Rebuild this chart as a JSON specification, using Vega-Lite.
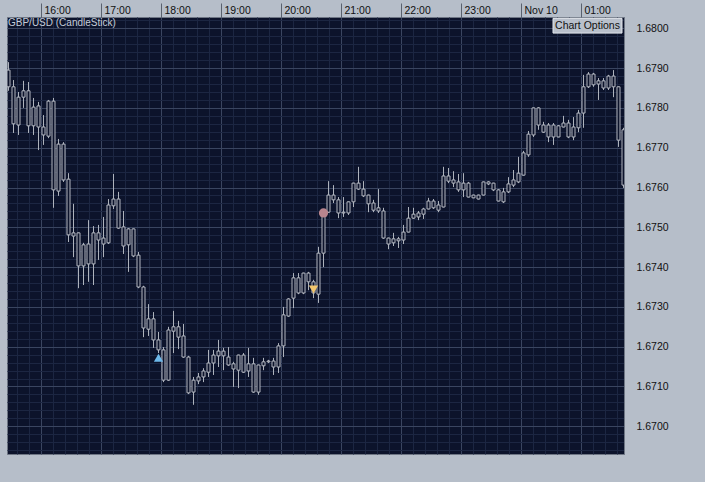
{
"$schema":"https://vega.github.io/schema/vega-lite/v6.json",
"width":617,"height":437,
"autosize":{"type":"none"},
"padding":{"left":7,"top":17,"right":81,"bottom":28},
"background":"#b6bec9",
"config":{"view":{"fill":"#0c132b","stroke":"#6e7684"},"font":"Liberation Sans","scale":{"continuousPadding":0}},
"datasets":{
"candles":[
{"t":"2009-11-09T15:25:00Z","o":1.67895,"h":1.67915,"l":1.67843,"c":1.67853},
{"t":"2009-11-09T15:30:00Z","o":1.67853,"h":1.67870,"l":1.67737,"c":1.67760},
{"t":"2009-11-09T15:35:00Z","o":1.67757,"h":1.67840,"l":1.67732,"c":1.67827},
{"t":"2009-11-09T15:40:00Z","o":1.67843,"h":1.67868,"l":1.67800,"c":1.67827},
{"t":"2009-11-09T15:45:00Z","o":1.67843,"h":1.67865,"l":1.67737,"c":1.67755},
{"t":"2009-11-09T15:50:00Z","o":1.67802,"h":1.67825,"l":1.67732,"c":1.67755},
{"t":"2009-11-09T15:55:00Z","o":1.67805,"h":1.67815,"l":1.67694,"c":1.67752},
{"t":"2009-11-09T16:00:00Z","o":1.67732,"h":1.67782,"l":1.67707,"c":1.67752},
{"t":"2009-11-09T16:05:00Z","o":1.67817,"h":1.67820,"l":1.67724,"c":1.67729},
{"t":"2009-11-09T16:10:00Z","o":1.67817,"h":1.67825,"l":1.67549,"c":1.67594},
{"t":"2009-11-09T16:15:00Z","o":1.67591,"h":1.67722,"l":1.67579,"c":1.67709},
{"t":"2009-11-09T16:20:00Z","o":1.67709,"h":1.67714,"l":1.67614,"c":1.67619},
{"t":"2009-11-09T16:25:00Z","o":1.67621,"h":1.67636,"l":1.67463,"c":1.67481},
{"t":"2009-11-09T16:30:00Z","o":1.67486,"h":1.67559,"l":1.67425,"c":1.67478},
{"t":"2009-11-09T16:35:00Z","o":1.67486,"h":1.67487,"l":1.67347,"c":1.67403},
{"t":"2009-11-09T16:40:00Z","o":1.67403,"h":1.67461,"l":1.67355,"c":1.67456},
{"t":"2009-11-09T16:45:00Z","o":1.67408,"h":1.67518,"l":1.67363,"c":1.67458},
{"t":"2009-11-09T16:50:00Z","o":1.67408,"h":1.67503,"l":1.67355,"c":1.67486},
{"t":"2009-11-09T16:55:00Z","o":1.67486,"h":1.67506,"l":1.67418,"c":1.67468},
{"t":"2009-11-09T17:00:00Z","o":1.67458,"h":1.67526,"l":1.67425,"c":1.67473},
{"t":"2009-11-09T17:05:00Z","o":1.67461,"h":1.67571,"l":1.67458,"c":1.67556},
{"t":"2009-11-09T17:10:00Z","o":1.67554,"h":1.67634,"l":1.67546,"c":1.67571},
{"t":"2009-11-09T17:15:00Z","o":1.67571,"h":1.67589,"l":1.67496,"c":1.67498},
{"t":"2009-11-09T17:20:00Z","o":1.67501,"h":1.67541,"l":1.67433,"c":1.67453},
{"t":"2009-11-09T17:25:00Z","o":1.67496,"h":1.67498,"l":1.67388,"c":1.67456},
{"t":"2009-11-09T17:30:00Z","o":1.67496,"h":1.67497,"l":1.67425,"c":1.67428},
{"t":"2009-11-09T17:35:00Z","o":1.67430,"h":1.67438,"l":1.67347,"c":1.67350},
{"t":"2009-11-09T17:40:00Z","o":1.67350,"h":1.67353,"l":1.67224,"c":1.67247},
{"t":"2009-11-09T17:45:00Z","o":1.67270,"h":1.67307,"l":1.67227,"c":1.67244},
{"t":"2009-11-09T17:50:00Z","o":1.67270,"h":1.67287,"l":1.67197,"c":1.67217},
{"t":"2009-11-09T17:55:00Z","o":1.67217,"h":1.67237,"l":1.67184,"c":1.67192},
{"t":"2009-11-09T18:00:00Z","o":1.67116,"h":1.67199,"l":1.67111,"c":1.67192},
{"t":"2009-11-09T18:05:00Z","o":1.67116,"h":1.67250,"l":1.67114,"c":1.67242},
{"t":"2009-11-09T18:10:00Z","o":1.67250,"h":1.67290,"l":1.67184,"c":1.67239},
{"t":"2009-11-09T18:15:00Z","o":1.67250,"h":1.67265,"l":1.67194,"c":1.67224},
{"t":"2009-11-09T18:20:00Z","o":1.67227,"h":1.67257,"l":1.67172,"c":1.67174},
{"t":"2009-11-09T18:25:00Z","o":1.67174,"h":1.67177,"l":1.67081,"c":1.67084},
{"t":"2009-11-09T18:30:00Z","o":1.67086,"h":1.67124,"l":1.67054,"c":1.67116},
{"t":"2009-11-09T18:35:00Z","o":1.67114,"h":1.67134,"l":1.67106,"c":1.67124},
{"t":"2009-11-09T18:40:00Z","o":1.67124,"h":1.67146,"l":1.67111,"c":1.67139},
{"t":"2009-11-09T18:45:00Z","o":1.67136,"h":1.67192,"l":1.67124,"c":1.67159},
{"t":"2009-11-09T18:50:00Z","o":1.67159,"h":1.67192,"l":1.67129,"c":1.67179},
{"t":"2009-11-09T18:55:00Z","o":1.67177,"h":1.67217,"l":1.67149,"c":1.67189},
{"t":"2009-11-09T19:00:00Z","o":1.67189,"h":1.67197,"l":1.67141,"c":1.67177},
{"t":"2009-11-09T19:05:00Z","o":1.67174,"h":1.67199,"l":1.67152,"c":1.67154},
{"t":"2009-11-09T19:10:00Z","o":1.67144,"h":1.67162,"l":1.67099,"c":1.67157},
{"t":"2009-11-09T19:15:00Z","o":1.67179,"h":1.67180,"l":1.67096,"c":1.67141},
{"t":"2009-11-09T19:20:00Z","o":1.67179,"h":1.67184,"l":1.67134,"c":1.67136},
{"t":"2009-11-09T19:25:00Z","o":1.67157,"h":1.67197,"l":1.67124,"c":1.67139},
{"t":"2009-11-09T19:30:00Z","o":1.67157,"h":1.67172,"l":1.67084,"c":1.67086},
{"t":"2009-11-09T19:35:00Z","o":1.67086,"h":1.67155,"l":1.67079,"c":1.67154},
{"t":"2009-11-09T19:40:00Z","o":1.67152,"h":1.67172,"l":1.67141,"c":1.67162},
{"t":"2009-11-09T19:45:00Z","o":1.67164,"h":1.67167,"l":1.67159,"c":1.67162},
{"t":"2009-11-09T19:50:00Z","o":1.67149,"h":1.67172,"l":1.67129,"c":1.67164},
{"t":"2009-11-09T19:55:00Z","o":1.67149,"h":1.67209,"l":1.67134,"c":1.67202},
{"t":"2009-11-09T20:00:00Z","o":1.67202,"h":1.67300,"l":1.67174,"c":1.67280},
{"t":"2009-11-09T20:05:00Z","o":1.67277,"h":1.67322,"l":1.67275,"c":1.67320},
{"t":"2009-11-09T20:10:00Z","o":1.67322,"h":1.67385,"l":1.67297,"c":1.67373},
{"t":"2009-11-09T20:15:00Z","o":1.67335,"h":1.67385,"l":1.67332,"c":1.67373},
{"t":"2009-11-09T20:20:00Z","o":1.67335,"h":1.67386,"l":1.67332,"c":1.67385},
{"t":"2009-11-09T20:25:00Z","o":1.67385,"h":1.67388,"l":1.67342,"c":1.67363},
{"t":"2009-11-09T20:30:00Z","o":1.67335,"h":1.67368,"l":1.67322,"c":1.67363},
{"t":"2009-11-09T20:35:00Z","o":1.67332,"h":1.67451,"l":1.67310,"c":1.67435},
{"t":"2009-11-09T20:40:00Z","o":1.67435,"h":1.67541,"l":1.67400,"c":1.67538},
{"t":"2009-11-09T20:45:00Z","o":1.67538,"h":1.67616,"l":1.67536,"c":1.67581},
{"t":"2009-11-09T20:50:00Z","o":1.67581,"h":1.67606,"l":1.67561,"c":1.67569},
{"t":"2009-11-09T20:55:00Z","o":1.67569,"h":1.67576,"l":1.67523,"c":1.67536},
{"t":"2009-11-09T21:00:00Z","o":1.67536,"h":1.67576,"l":1.67526,"c":1.67538},
{"t":"2009-11-09T21:05:00Z","o":1.67536,"h":1.67565,"l":1.67531,"c":1.67564},
{"t":"2009-11-09T21:10:00Z","o":1.67564,"h":1.67612,"l":1.67551,"c":1.67611},
{"t":"2009-11-09T21:15:00Z","o":1.67611,"h":1.67652,"l":1.67594,"c":1.67596},
{"t":"2009-11-09T21:20:00Z","o":1.67596,"h":1.67616,"l":1.67576,"c":1.67579},
{"t":"2009-11-09T21:25:00Z","o":1.67581,"h":1.67582,"l":1.67538,"c":1.67559},
{"t":"2009-11-09T21:30:00Z","o":1.67561,"h":1.67569,"l":1.67538,"c":1.67543},
{"t":"2009-11-09T21:35:00Z","o":1.67549,"h":1.67596,"l":1.67536,"c":1.67541},
{"t":"2009-11-09T21:40:00Z","o":1.67541,"h":1.67549,"l":1.67471,"c":1.67473},
{"t":"2009-11-09T21:45:00Z","o":1.67473,"h":1.67474,"l":1.67445,"c":1.67458},
{"t":"2009-11-09T21:50:00Z","o":1.67461,"h":1.67486,"l":1.67453,"c":1.67471},
{"t":"2009-11-09T21:55:00Z","o":1.67466,"h":1.67476,"l":1.67448,"c":1.67471},
{"t":"2009-11-09T22:00:00Z","o":1.67468,"h":1.67506,"l":1.67458,"c":1.67488},
{"t":"2009-11-09T22:05:00Z","o":1.67488,"h":1.67551,"l":1.67487,"c":1.67523},
{"t":"2009-11-09T22:10:00Z","o":1.67523,"h":1.67549,"l":1.67521,"c":1.67533},
{"t":"2009-11-09T22:15:00Z","o":1.67526,"h":1.67541,"l":1.67518,"c":1.67536},
{"t":"2009-11-09T22:20:00Z","o":1.67533,"h":1.67549,"l":1.67521,"c":1.67546},
{"t":"2009-11-09T22:25:00Z","o":1.67546,"h":1.67574,"l":1.67545,"c":1.67566},
{"t":"2009-11-09T22:30:00Z","o":1.67566,"h":1.67571,"l":1.67546,"c":1.67549},
{"t":"2009-11-09T22:35:00Z","o":1.67543,"h":1.67566,"l":1.67538,"c":1.67556},
{"t":"2009-11-09T22:40:00Z","o":1.67551,"h":1.67652,"l":1.67550,"c":1.67629},
{"t":"2009-11-09T22:45:00Z","o":1.67629,"h":1.67649,"l":1.67611,"c":1.67616},
{"t":"2009-11-09T22:50:00Z","o":1.67619,"h":1.67641,"l":1.67601,"c":1.67611},
{"t":"2009-11-09T22:55:00Z","o":1.67614,"h":1.67634,"l":1.67589,"c":1.67594},
{"t":"2009-11-09T23:00:00Z","o":1.67611,"h":1.67636,"l":1.67576,"c":1.67594},
{"t":"2009-11-09T23:05:00Z","o":1.67611,"h":1.67614,"l":1.67575,"c":1.67576},
{"t":"2009-11-09T23:10:00Z","o":1.67581,"h":1.67582,"l":1.67573,"c":1.67574},
{"t":"2009-11-09T23:15:00Z","o":1.67571,"h":1.67582,"l":1.67570,"c":1.67581},
{"t":"2009-11-09T23:20:00Z","o":1.67581,"h":1.67615,"l":1.67580,"c":1.67614},
{"t":"2009-11-09T23:25:00Z","o":1.67614,"h":1.67616,"l":1.67606,"c":1.67609},
{"t":"2009-11-09T23:30:00Z","o":1.67611,"h":1.67612,"l":1.67591,"c":1.67594},
{"t":"2009-11-09T23:35:00Z","o":1.67594,"h":1.67596,"l":1.67565,"c":1.67566},
{"t":"2009-11-09T23:40:00Z","o":1.67564,"h":1.67599,"l":1.67561,"c":1.67589},
{"t":"2009-11-09T23:45:00Z","o":1.67589,"h":1.67626,"l":1.67586,"c":1.67609},
{"t":"2009-11-09T23:50:00Z","o":1.67606,"h":1.67644,"l":1.67601,"c":1.67619},
{"t":"2009-11-09T23:55:00Z","o":1.67614,"h":1.67677,"l":1.67611,"c":1.67636},
{"t":"2009-11-10T00:00:00Z","o":1.67631,"h":1.67692,"l":1.67630,"c":1.67687},
{"t":"2009-11-10T00:05:00Z","o":1.67682,"h":1.67742,"l":1.67677,"c":1.67734},
{"t":"2009-11-10T00:10:00Z","o":1.67732,"h":1.67801,"l":1.67727,"c":1.67800},
{"t":"2009-11-10T00:15:00Z","o":1.67800,"h":1.67802,"l":1.67745,"c":1.67757},
{"t":"2009-11-10T00:20:00Z","o":1.67757,"h":1.67765,"l":1.67737,"c":1.67739},
{"t":"2009-11-10T00:25:00Z","o":1.67757,"h":1.67762,"l":1.67714,"c":1.67727},
{"t":"2009-11-10T00:30:00Z","o":1.67757,"h":1.67762,"l":1.67707,"c":1.67727},
{"t":"2009-11-10T00:35:00Z","o":1.67727,"h":1.67757,"l":1.67726,"c":1.67755},
{"t":"2009-11-10T00:40:00Z","o":1.67762,"h":1.67780,"l":1.67751,"c":1.67752},
{"t":"2009-11-10T00:45:00Z","o":1.67762,"h":1.67770,"l":1.67724,"c":1.67727},
{"t":"2009-11-10T00:50:00Z","o":1.67727,"h":1.67777,"l":1.67719,"c":1.67752},
{"t":"2009-11-10T00:55:00Z","o":1.67750,"h":1.67795,"l":1.67739,"c":1.67787},
{"t":"2009-11-10T01:00:00Z","o":1.67787,"h":1.67883,"l":1.67750,"c":1.67853},
{"t":"2009-11-10T01:05:00Z","o":1.67853,"h":1.67890,"l":1.67850,"c":1.67885},
{"t":"2009-11-10T01:10:00Z","o":1.67885,"h":1.67888,"l":1.67853,"c":1.67858},
{"t":"2009-11-10T01:15:00Z","o":1.67868,"h":1.67875,"l":1.67820,"c":1.67860},
{"t":"2009-11-10T01:20:00Z","o":1.67850,"h":1.67875,"l":1.67845,"c":1.67868},
{"t":"2009-11-10T01:25:00Z","o":1.67850,"h":1.67883,"l":1.67845,"c":1.67880},
{"t":"2009-11-10T01:30:00Z","o":1.67880,"h":1.67895,"l":1.67827,"c":1.67853},
{"t":"2009-11-10T01:35:00Z","o":1.67853,"h":1.67854,"l":1.67702,"c":1.67719},
{"t":"2009-11-10T01:40:00Z","o":1.67745,"h":1.67750,"l":1.67599,"c":1.67606}
],
"signals":[
{"t":"2009-11-09T17:55:00Z","p":1.67172,"signal":"buy"},
{"t":"2009-11-09T20:30:00Z","p":1.67344,"signal":"sell"},
{"t":"2009-11-09T20:40:00Z","p":1.67536,"signal":"exit"}
]
},
"resolve":{"axis":{"x":"independent","y":"independent"}},
"layer":[
{"data":{"name":"candles"},
 "mark":{"type":"rule","color":"#aeb3bc","strokeWidth":1,"clip":true,"xOffset":2.5},
 "encoding":{
  "x":{"field":"t","type":"temporal",
   "scale":{"type":"utc","domain":[1257780360000,1257817380000],"nice":false,"padding":0},
   "axis":{"orient":"bottom","title":null,"labels":false,"ticks":false,"domain":false,"grid":true,"gridColor":"#1c2642","gridOpacity":1,
    "values":[1257780960000,1257781680000,1257783120000,1257783840000,1257784560000,1257785280000,1257786720000,1257787440000,1257788160000,1257788880000,1257790320000,1257791040000,1257791760000,1257792480000,1257793920000,1257794640000,1257795360000,1257796080000,1257797520000,1257798240000,1257798960000,1257799680000,1257801120000,1257801840000,1257802560000,1257803280000,1257804720000,1257805440000,1257806160000,1257806880000,1257808320000,1257809040000,1257809760000,1257810480000,1257811920000,1257812640000,1257813360000,1257814080000,1257815520000,1257816240000,1257816960000]}},
  "y":{"field":"h","type":"quantitative","scale":{"domain":[1.669304,1.680284],"zero":false,"nice":false},
   "axis":{"orient":"left","title":null,"labels":false,"ticks":false,"domain":false,"grid":true,"gridColor":"#1c2642","gridOpacity":1,
    "values":[1.6694,1.6696,1.6698,1.6702,1.6704,1.6706,1.6708,1.6712,1.6714,1.6716,1.6718,1.6722,1.6724,1.6726,1.6728,1.6732,1.6734,1.6736,1.6738,1.6742,1.6744,1.6746,1.6748,1.6752,1.6754,1.6756,1.6758,1.6762,1.6764,1.6766,1.6768,1.6772,1.6774,1.6776,1.6778,1.6782,1.6784,1.6786,1.6788,1.6792,1.6794,1.6796,1.6798,1.6802]}},
  "y2":{"field":"l"}
 }},
{"data":{"name":"candles"},
 "mark":{"type":"bar","width":3,"fill":"#0c132b","stroke":"#b4b8c1","strokeWidth":1,"clip":true,"xOffset":2.5},
 "encoding":{
  "x":{"field":"t","type":"temporal",
   "scale":{"type":"utc","domain":[1257780360000,1257817380000],"nice":false,"padding":0},
   "axis":{"orient":"top","title":null,"tickCount":"hour",
    "labelExpr":"utchours(datum.value)==0 ? 'Nov 10' : utcFormat(datum.value,'%H:%M')",
    "labelAlign":"left","labelOffset":3,"labelPadding":-12,"tickSize":14,"tickColor":"#59616e",
    "labelColor":"#111111","labelFontSize":10.5,"labelFont":"Liberation Sans","labelOverlap":false,"labelFlush":false,"labelBound":false,
    "domain":false,"grid":true,"gridColor":"#3a4560","gridOpacity":1}},
  "y":{"field":"o","type":"quantitative",
   "scale":{"domain":[1.669304,1.680284],"zero":false,"nice":false},
   "axis":{"orient":"right","title":null,
    "values":[1.67,1.671,1.672,1.673,1.674,1.675,1.676,1.677,1.678,1.679,1.68],
    "format":".4f",
    "ticks":false,"labelPadding":12,"labelAlign":"left","labelColor":"#111111","labelFontSize":10.5,"labelFont":"Liberation Sans",
    "labelOverlap":false,"labelBound":false,"labelFlush":false,"domain":true,"domainColor":"#6e7684","grid":true,
    "gridColor":"#3a4560","gridOpacity":1}},
  "y2":{"field":"c"}
 }},
{"data":{"name":"signals"},
 "mark":{"type":"point","filled":true,"opacity":1,"size":85,"clip":true,"xOffset":2.5},
 "encoding":{
  "x":{"field":"t","type":"temporal","axis":null,"scale":{"type":"utc","domain":[1257780360000,1257817380000],"nice":false,"padding":0}},
  "y":{"field":"p","type":"quantitative","axis":null},
  "shape":{"field":"signal","type":"nominal","scale":{"domain":["buy","sell","exit"],"range":["triangle-up","triangle-down","circle"]},"legend":null},
  "color":{"field":"signal","type":"nominal","scale":{"domain":["buy","sell","exit"],"range":["#6cb8ea","#f2c66e","#b9858e"]},"legend":null}
 }},
{"data":{"values":[{"label":"GBP/USD (CandleStick)"}]},
 "mark":{"type":"text","align":"left","baseline":"top","dx":1,"dy":1,"color":"#c5ccd8","fontSize":10,"font":"Liberation Sans"},
 "encoding":{
  "x":{"datum":1257780360000,"type":"temporal","axis":null},
  "y":{"datum":1.680284,"type":"quantitative","axis":null},
  "text":{"field":"label"}
 }},
{"data":{"values":[{"label":"Chart Options"}]},
 "mark":{"type":"rect","fill":"#b9c0cb","stroke":"#e4e8ee","strokeWidth":1},
 "encoding":{
  "x":{"datum":1257813120000,"type":"temporal","axis":null},
  "x2":{"datum":1257817260000},
  "y":{"datum":1.68025,"type":"quantitative","axis":null},
  "y2":{"datum":1.67988}
 }},
{"data":{"values":[{"label":"Chart Options"}]},
 "mark":{"type":"text","align":"center","baseline":"middle","color":"#111111","fontSize":10.5,"font":"Liberation Sans"},
 "encoding":{
  "x":{"datum":1257815190000,"type":"temporal","axis":null},
  "y":{"datum":1.680065,"type":"quantitative","axis":null},
  "text":{"field":"label"}
 }}
]
}
